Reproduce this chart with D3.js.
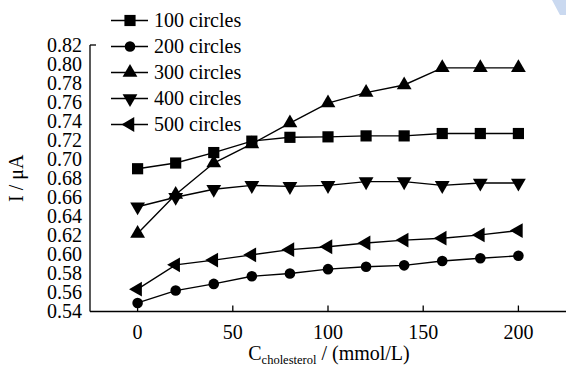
<!DOCTYPE html>
<html>
<head>
<meta charset="utf-8">
<script src="https://cdn.jsdelivr.net/npm/d3@7"></script>
<style>
  body { margin: 0; background: #fff; }
  svg { display: block; }
  text { font-family: "Liberation Serif", "Times New Roman", Times, "DejaVu Serif", serif; }
</style>
</head>
<body>
<div id="scene"></div>
<script>
var concentrations = [0, 20, 40, 60, 80, 100, 120, 140, 160, 180, 200];
var seriesNames = ["100 circles", "200 circles", "300 circles", "400 circles", "500 circles"];
var series100 = [0.690, 0.696, 0.707, 0.719, 0.723, 0.7235, 0.7245, 0.7245, 0.727, 0.727, 0.727];
var series200 = [0.549, 0.562, 0.569, 0.577, 0.580, 0.5845, 0.587, 0.5885, 0.593, 0.596, 0.5985];
var series300 = [0.622, 0.663, 0.696, 0.716, 0.738, 0.759, 0.770, 0.778, 0.796, 0.796, 0.796];
var series400 = [0.650, 0.660, 0.6685, 0.6725, 0.6715, 0.6725, 0.6765, 0.6765, 0.6725, 0.675, 0.675];
var series500 = [0.5635, 0.589, 0.594, 0.5995, 0.605, 0.608, 0.612, 0.615, 0.617, 0.6205, 0.625];
var yTicks = [0.54, 0.56, 0.58, 0.60, 0.62, 0.64, 0.66, 0.68, 0.70, 0.72, 0.74, 0.76, 0.78, 0.80, 0.82];
var xTicks = [0, 50, 100, 150, 200];

var ctx = {
  w: 566,
  h: 367,
  left: 90,
  right: 566,
  top: 45,
  bottom: 311.5,
  fontSize: 20
};

var allSeries = [series100, series200, series300, series400, series500];
var markers = [
  {type: d3.symbolSquare, size: 125, rot: 0},
  {type: d3.symbolCircle, size: 88, rot: 0},
  {type: d3.symbolTriangle, size: 95, rot: 0},
  {type: d3.symbolTriangle, size: 95, rot: 180},
  {type: d3.symbolTriangle, size: 95, rot: -90}
];

var svg = d3.select("#scene").append("svg")
  .attr("width", ctx.w)
  .attr("height", ctx.h);

// faint watermark in the corner
svg.append("polygon")
  .attr("points", "552,0 566,0 566,15 560,15")
  .attr("fill", "#cad9f0");

var x = d3.scaleLinear().domain([-25, 225]).range([ctx.left, ctx.right]);
var y = d3.scaleLinear().domain([0.54, 0.82]).range([ctx.bottom, ctx.top]);

// axes
svg.append("line")
  .attr("x1", ctx.left).attr("x2", ctx.left)
  .attr("y1", ctx.top).attr("y2", ctx.bottom)
  .attr("stroke", "#000").attr("stroke-width", 1.3);
svg.append("line")
  .attr("x1", ctx.left).attr("x2", ctx.left + 6)
  .attr("y1", ctx.top).attr("y2", ctx.top)
  .attr("stroke", "#000").attr("stroke-width", 1.3);
svg.append("line")
  .attr("x1", ctx.left).attr("x2", ctx.right)
  .attr("y1", ctx.bottom).attr("y2", ctx.bottom)
  .attr("stroke", "#000").attr("stroke-width", 1.3);

svg.selectAll(".xtick")
  .data(xTicks)
  .enter()
  .append("line")
  .attr("x1", function(d) { return x(d); })
  .attr("x2", function(d) { return x(d); })
  .attr("y1", ctx.bottom)
  .attr("y2", ctx.bottom - 6)
  .attr("stroke", "#000").attr("stroke-width", 1.3);

svg.selectAll(".xlabel")
  .data(xTicks)
  .enter()
  .append("text")
  .attr("x", function(d) { return x(d); })
  .attr("y", ctx.bottom + 27)
  .attr("text-anchor", "middle")
  .attr("font-size", ctx.fontSize)
  .text(function(d) { return d; });

svg.selectAll(".ylabel")
  .data(yTicks)
  .enter()
  .append("text")
  .attr("x", ctx.left - 8)
  .attr("y", function(d) { return y(d) + 6.5; })
  .attr("text-anchor", "end")
  .attr("font-size", ctx.fontSize)
  .text(function(d) { return d.toFixed(2); });

// axis titles
svg.append("text")
  .attr("transform", "translate(23," + ((ctx.top + ctx.bottom) / 2) + ") rotate(-90)")
  .attr("text-anchor", "middle")
  .attr("font-size", ctx.fontSize)
  .text("I / μA");

var xt = svg.append("text")
  .attr("x", (ctx.left + ctx.right) / 2 + 1)
  .attr("y", 360)
  .attr("text-anchor", "middle")
  .attr("font-size", ctx.fontSize);
xt.append("tspan").text("C");
xt.append("tspan").attr("font-size", 12.5).attr("dy", 4).text("cholesterol");
xt.append("tspan").attr("dy", -4).text(" / (mmol/L)");

// lines and markers
var line = d3.line()
  .x(function(d, i) { return x(concentrations[i]); })
  .y(function(d) { return y(d); });

allSeries.forEach(function(vals, k) {
  svg.append("path")
    .datum(vals)
    .attr("d", line)
    .attr("fill", "none")
    .attr("stroke", "#000")
    .attr("stroke-width", 1.4);

  var sym = d3.symbol().type(markers[k].type).size(markers[k].size);
  svg.selectAll(".m" + k)
    .data(vals)
    .enter()
    .append("path")
    .attr("d", sym)
    .attr("transform", function(d, i) {
      return "translate(" + x(concentrations[i]) + "," + y(d) + ") rotate(" + markers[k].rot + ")";
    })
    .attr("fill", "#000");
});

// legend
var legend = svg.append("g");
seriesNames.forEach(function(name, k) {
  var cy = 20.5 + k * 26;
  legend.append("line")
    .attr("x1", 111).attr("x2", 148)
    .attr("y1", cy).attr("y2", cy)
    .attr("stroke", "#000").attr("stroke-width", 1.4);
  legend.append("path")
    .attr("d", d3.symbol().type(markers[k].type).size(markers[k].size))
    .attr("transform", "translate(130," + cy + ") rotate(" + markers[k].rot + ")")
    .attr("fill", "#000");
  legend.append("text")
    .attr("x", 154)
    .attr("y", cy + 6.5)
    .attr("font-size", ctx.fontSize)
    .text(name);
});
</script>
</body>
</html>
